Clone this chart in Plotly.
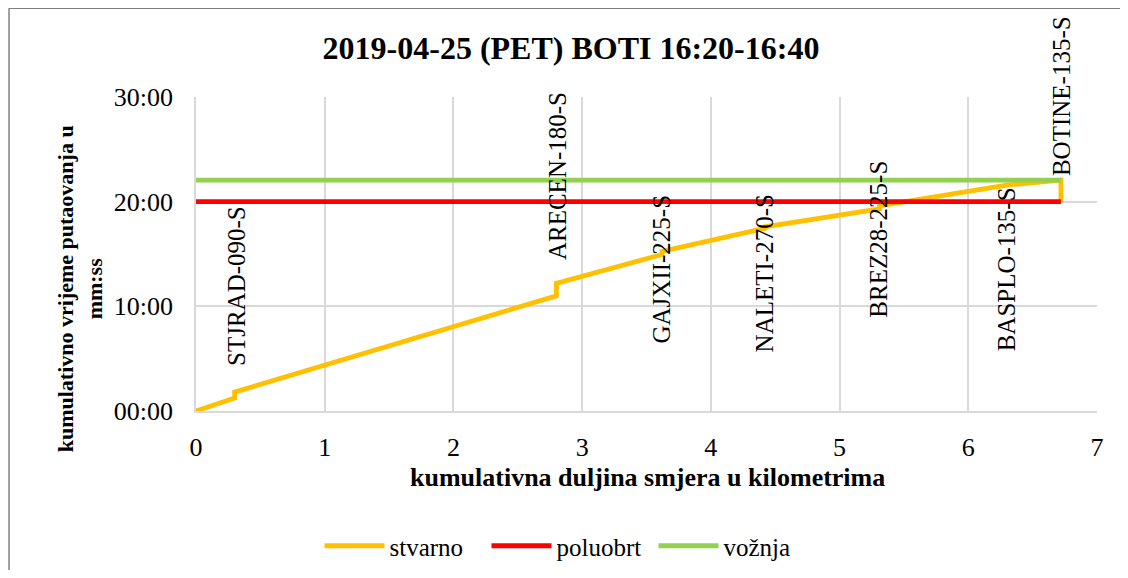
import plotly.graph_objects as go

# ---- data ----
stvarno_km = [0, 0.30, 0.30, 2.80, 2.80, 3.62, 3.62, 4.42, 4.42, 5.31, 5.31, 6.31, 6.72, 6.72]
stvarno_min = [0, 1.25, 1.8, 11.0, 12.2, 14.95, 15.25, 17.45, 17.6, 19.3, 19.6, 21.6, 22.05, 20.0]
poluobrt_km = [0, 6.72]
poluobrt_min = [20.0, 20.0]
voznja_km = [0, 6.72]
voznja_min = [22.05, 22.05]

station_names = ["STJRAD-090-S", "ARECEN-180-S", "GAJXII-225-S", "NALETI-270-S",
                 "BREZ28-225-S", "BASPLO-135-S", "BOTINE-135-S"]
station_km = [0.31, 2.81, 3.62, 4.42, 5.30, 6.30, 6.72]
label_bottom_min = [4.1, 14.2, 6.3, 5.4, 8.7, 5.5, 22.25]

y_ticks = [0, 10, 20, 30]
y_tick_text = ["00:00", "10:00", "20:00", "30:00"]
x_ticks = [0, 1, 2, 3, 4, 5, 6, 7]

FONT = "Liberation Serif"

W, H = 1112, 562  # page body adds an 8px offset

fig = go.Figure()
fig.add_trace(go.Scatter(x=stvarno_km, y=stvarno_min, mode="lines", name="stvarno",
                         line=dict(color="#FFC000", width=4.8)))
fig.add_trace(go.Scatter(x=poluobrt_km, y=poluobrt_min, mode="lines", name="poluobrt",
                         line=dict(color="#FF0000", width=4.8)))
fig.add_trace(go.Scatter(x=voznja_km, y=voznja_min, mode="lines", name="vožnja",
                         line=dict(color="#92D050", width=4.8)))

annotations = []
for name, xk, yb in zip(station_names, station_km, label_bottom_min):
    annotations.append(dict(x=xk, y=yb, xref="x", yref="y", text=name, textangle=-90,
                            showarrow=False, xanchor="center", yanchor="bottom",
                            font=dict(family=FONT, size=25, color="black")))

annotations.append(dict(x=-0.129, y=0.39, xref="paper", yref="paper",
                        text="<b>kumulativno vrijeme putaovanja u<br>mm:ss</b>",
                        textangle=-90, showarrow=False, xanchor="center", yanchor="middle",
                        font=dict(family=FONT, size=22, color="black")))
annotations.append(dict(x=0.501, y=-0.213, xref="paper", yref="paper",
                        text="<b>kumulativna duljina smjera u kilometrima</b>",
                        showarrow=False, xanchor="center", yanchor="middle",
                        font=dict(family=FONT, size=26, color="black")))

border = dict(color="#7f7f7f", width=1.5)
shapes = [
    dict(type="line", xref="paper", yref="paper", x0=-0.2075, x1=1.05, y0=1.283, y1=1.283, line=border),
    dict(type="line", xref="paper", yref="paper", x0=-0.2075, x1=-0.2075, y0=1.283, y1=-0.53, line=border),
]

grid = "#d9d9d9"
fig.update_layout(
    width=W, height=H,
    margin=dict(l=188, r=W - 1089, t=89, b=H - 403),
    paper_bgcolor="white", plot_bgcolor="white",
    font=dict(family=FONT, color="black"),
    title=dict(text="<b>2019-04-25 (PET) BOTI 16:20-16:40</b>", xref="container",
               x=(571 - 8) / W, xanchor="center", y=1 - 40 / H, yanchor="middle",
               font=dict(family=FONT, size=32, color="black")),
    xaxis=dict(range=[0, 7], tickvals=x_ticks, showgrid=True, gridcolor=grid, gridwidth=1.5,
               zeroline=False, showline=True, linecolor=grid, linewidth=1.5,
               ticks="outside", ticklen=12,
               tickcolor="rgba(0,0,0,0)", tickfont=dict(family=FONT, size=26, color="black")),
    yaxis=dict(range=[0, 30], tickvals=y_ticks, ticktext=y_tick_text, showgrid=True,
               gridcolor=grid, gridwidth=1.5, zeroline=False, showline=True, linecolor=grid,
               linewidth=1.5, ticks="outside", ticklen=16, tickcolor="rgba(0,0,0,0)",
               tickfont=dict(family=FONT, size=26, color="black")),
    legend=dict(orientation="h", xref="container", yref="container", x=(570 - 8) / W,
                xanchor="center", y=1 - 538 / H, yanchor="middle",
                font=dict(family=FONT, size=25, color="black"), itemwidth=60,
                entrywidth=92, entrywidthmode="pixels"),
    annotations=annotations,
    shapes=shapes,
    showlegend=True,
)

fig.write_html("out.html")
